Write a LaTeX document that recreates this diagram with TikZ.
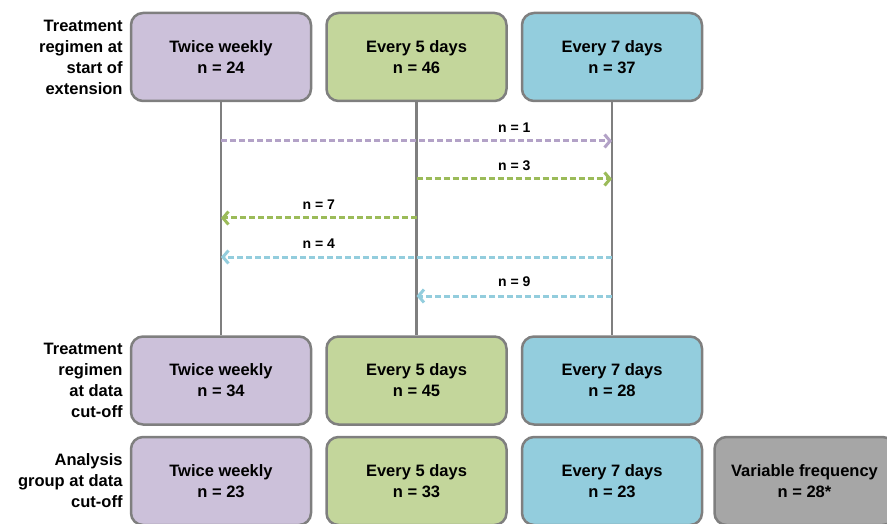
\documentclass[tikz,border=0pt]{standalone}
\usepackage{fontspec}
\setmainfont{Liberation Sans}
\usepackage{xcolor}
\usetikzlibrary{arrows.meta, positioning, calc}

\definecolor{edgegrey}{HTML}{7F7F7F}
\definecolor{purpfill}{HTML}{CCC1DA}
\definecolor{greenfill}{HTML}{C3D69B}
\definecolor{bluefill}{HTML}{93CDDD}
\definecolor{greyfill}{HTML}{A6A6A6}
\definecolor{purparr}{HTML}{B3A2C7}
\definecolor{greenarr}{HTML}{9BBB59}
\definecolor{bluearr}{HTML}{93CDDD}

\begin{document}
\begin{tikzpicture}[
  x=1pt, y=-1pt,
  box/.style={rectangle, rounded corners=12pt, draw=edgegrey, line width=2.5pt,
              minimum width=180pt, minimum height=88pt, align=center,
              font=\bfseries\fontsize{16.5}{21}\selectfont},
  rowlab/.style={align=right, inner sep=0pt, font=\bfseries\fontsize{16.5}{21}\selectfont},
  vline/.style={draw=edgegrey, line width=2.8pt},
  arr/.style={line width=3pt, dash pattern=on 6pt off 3pt,
              -{Straight Barb[length=5.5pt, width=13pt, line width=3pt]}},
  lbl/.style={inner sep=0pt, font=\bfseries\fontsize{14}{16}\selectfont}
]
  \useasboundingbox (0,0) rectangle (887,524);
  \clip (0,0) rectangle (887,524);

  % start of extension
  \node[box, fill=purpfill] (tw1) at (221,57) {Twice weekly\\n = 24};
  \node[box, fill=greenfill, right=13pt of tw1] (e5a) {Every 5 days\\n = 46};
  \node[box, fill=bluefill, right=13pt of e5a] (s7a) {Every 7 days\\n = 37};
  \node[rowlab, left=7pt of tw1] (lab1) {Treatment\\regimen at\\start of\\extension};

  % data cut-off
  \node[box, fill=purpfill, below=233pt of tw1] (tw2) {Twice weekly\\n = 34};
  \node[box, fill=greenfill, right=13pt of tw2] (e5b) {Every 5 days\\n = 45};
  \node[box, fill=bluefill, right=13pt of e5b] (s7b) {Every 7 days\\n = 28};
  \node[rowlab, left=7pt of tw2] (lab2) {Treatment\\regimen\\at data\\cut-off};

  % analysis group
  \node[box, fill=purpfill, below=10pt of tw2] (tw3) {Twice weekly\\n = 23};
  \node[box, fill=greenfill, right=13pt of tw3] (e5c) {Every 5 days\\n = 33};
  \node[box, fill=bluefill, right=13pt of e5c] (s7c) {Every 7 days\\n = 23};
  \node[box, fill=greyfill, right=10pt of s7c] (var) {Variable frequency\\n = 28*};
  \node[rowlab, left=7pt of tw3] (lab3) {Analysis\\group at data\\cut-off};

  \draw[vline] (tw1.south) -- (tw2.north);
  \draw[vline] (e5a.south) -- (e5b.north);
  \draw[vline] (s7a.south) -- (s7b.north);

  % switches
  \coordinate (r1) at (0,141);
  \coordinate (r2) at (0,179);
  \coordinate (r3) at (0,218);
  \coordinate (r4) at (0,257);
  \coordinate (r5) at (0,296);
  \coordinate (m12) at ($(tw1)!0.5!(e5a)$);
  \coordinate (m23) at ($(e5a)!0.5!(s7a)$);

  \draw[arr, purparr] (tw1.south |- r1) -- (s7a.south |- r1);
  \draw[arr, greenarr] (e5a.south |- r2) -- (s7a.south |- r2);
  \draw[arr, greenarr] (e5a.south |- r3) -- (tw1.south |- r3);
  \draw[arr, bluearr] (s7a.south |- r4) -- (tw1.south |- r4);
  \draw[arr, bluearr] (s7a.south |- r5) -- (e5a.south |- r5);

  \node[lbl, above=8pt] (n1) at (m23 |- r1) {n = 1};
  \node[lbl, above=8pt] (n3) at (m23 |- r2) {n = 3};
  \node[lbl, above=8pt] (n7) at (m12 |- r3) {n = 7};
  \node[lbl, above=8pt] (n4) at (m12 |- r4) {n = 4};
  \node[lbl, above=9pt] (n9) at (m23 |- r5) {n = 9};
\end{tikzpicture}
\end{document}
